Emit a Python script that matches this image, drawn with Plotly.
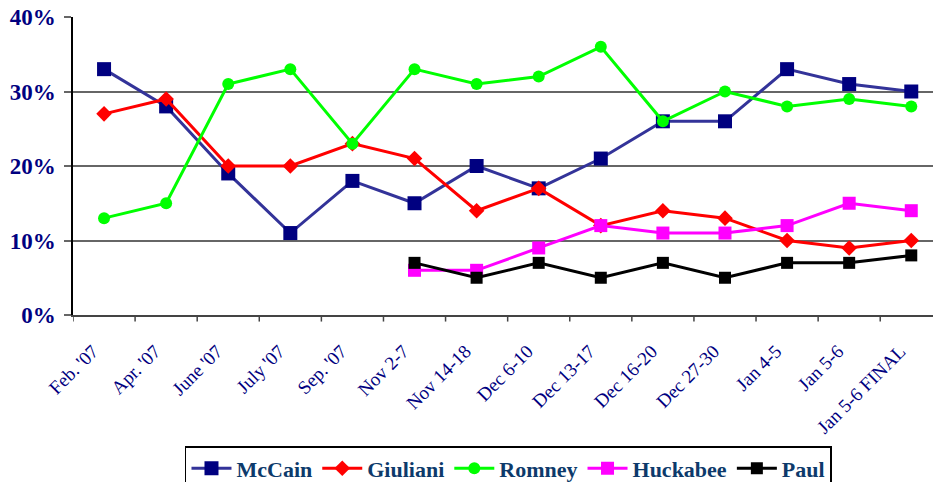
import plotly.graph_objects as go

categories = ["Feb. '07", "Apr. '07", "June '07", "July '07", "Sep. '07", "Nov 2-7",
              "Nov 14-18", "Dec 6-10", "Dec 13-17", "Dec 16-20", "Dec 27-30",
              "Jan 4-5", "Jan 5-6", "Jan 5-6 FINAL"]
mccain = [33, 28, 19, 11, 18, 15, 20, 17, 21, 26, 26, 33, 31, 30]
giuliani = [27, 29, 20, 20, 23, 21, 14, 17, 12, 14, 13, 10, 9, 10]
romney = [13, 15, 31, 33, 23, 33, 31, 32, 36, 26, 30, 28, 29, 28]
huckabee = [None, None, None, None, None, 6, 6, 9, 12, 11, 11, 12, 15, 14]
paul = [None, None, None, None, None, 7, 5, 7, 5, 7, 5, 7, 7, 8]
y_ticks = [0, 10, 20, 30, 40]

x_idx = list(range(len(categories)))
label_pos = [i - 0.18 for i in x_idx]

series = [
    ("McCain", mccain, "#333399", "#000080", "square", 14),
    ("Giuliani", giuliani, "#FF0000", "#FF0000", "diamond", 12),
    ("Romney", romney, "#00FF00", "#00FF00", "circle", 12),
    ("Huckabee", huckabee, "#FF00FF", "#FF00FF", "square", 13),
    ("Paul", paul, "#000000", "#000000", "square", 12),
]

fig = go.Figure()
for name, vals, lc, mc, sym, ms in series:
    fig.add_trace(go.Scatter(
        x=x_idx, y=vals, name=name, mode="lines+markers",
        line=dict(color=lc, width=3),
        marker=dict(color=mc, symbol=sym, size=ms, line=dict(width=0)),
        connectgaps=False,
    ))

fig.update_layout(
    width=933, height=482,
    margin=dict(l=73, r=0, t=17, b=167, autoexpand=False),
    paper_bgcolor="white", plot_bgcolor="white",
    showlegend=True,
    legend=dict(
        orientation="h", xref="container", yref="container",
        x=0.545, xanchor="center", y=1 - 446 / 482, yanchor="top",
        bordercolor="black", borderwidth=1.5,
        font=dict(family="Liberation Serif", size=22, color="#0D3A6B", weight="bold"),
        itemwidth=40, tracegroupgap=0,
    ),
    font=dict(family="Liberation Serif"),
)

fig.update_xaxes(
    range=[-0.5, 13.35], automargin=False,
    tickmode="array", tickvals=label_pos, ticktext=categories,
    tickangle=-45,
    tickfont=dict(family="Liberation Serif", size=19, color="#000080"),
    showgrid=False, zeroline=False,
    showline=True, linecolor="#444444", linewidth=1.5,
    ticks="", ticklabelstandoff=16,
)

# boundary tick marks on x axis
for k in range(len(categories) + 1):
    fig.add_shape(type="line", xref="x", yref="paper",
                  x0=k - 0.5, x1=k - 0.5, y0=0, y1=-0.022,
                  line=dict(color="#444444", width=1.5))

fig.update_yaxes(
    range=[0, 40], automargin=False,
    tickmode="array", tickvals=y_ticks, ticktext=[f"{v}%" for v in y_ticks],
    tickfont=dict(family="Liberation Serif", size=23, color="#000080", weight="bold"),
    showgrid=True, gridcolor="#666666", gridwidth=1.5,
    zeroline=False,
    showline=True, linecolor="black", linewidth=1.5,
    ticks="outside", ticklen=7, tickcolor="#666666", tickwidth=1.5,
    ticklabelstandoff=4,
)

fig.write_html("out.html", config={"displayModeBar": False},
               post_script="document.body.style.margin='0';document.body.style.overflow='hidden';")
